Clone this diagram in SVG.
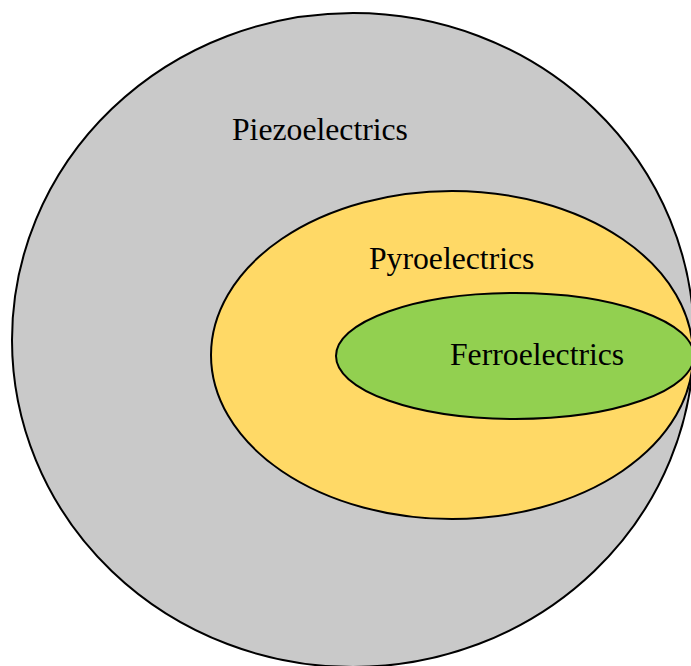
<svg xmlns="http://www.w3.org/2000/svg" width="691" height="666" viewBox="0 0 691 666">
<style>
.s{stroke:#000;stroke-width:2}
.t{font-family:"Liberation Serif",serif;font-size:31.7px;fill:#000}
</style>
<rect width="691" height="666" fill="#fff"/>
<g id="piezo">
<ellipse class="s" cx="353" cy="340" rx="341" ry="327" fill="#c9c9c9"/>
<text class="t" x="232" y="140">Piezoelectrics</text>
</g>
<g id="pyro">
<ellipse class="s" cx="452" cy="355" rx="241" ry="164" fill="#ffd966"/>
<text class="t" x="369" y="269">Pyroelectrics</text>
</g>
<g id="ferro">
<ellipse class="s" cx="515" cy="356" rx="179" ry="63" fill="#92d050"/>
<text class="t" x="450" y="365">Ferroelectrics</text>
</g>
<g id="connectors"/>
</svg>
